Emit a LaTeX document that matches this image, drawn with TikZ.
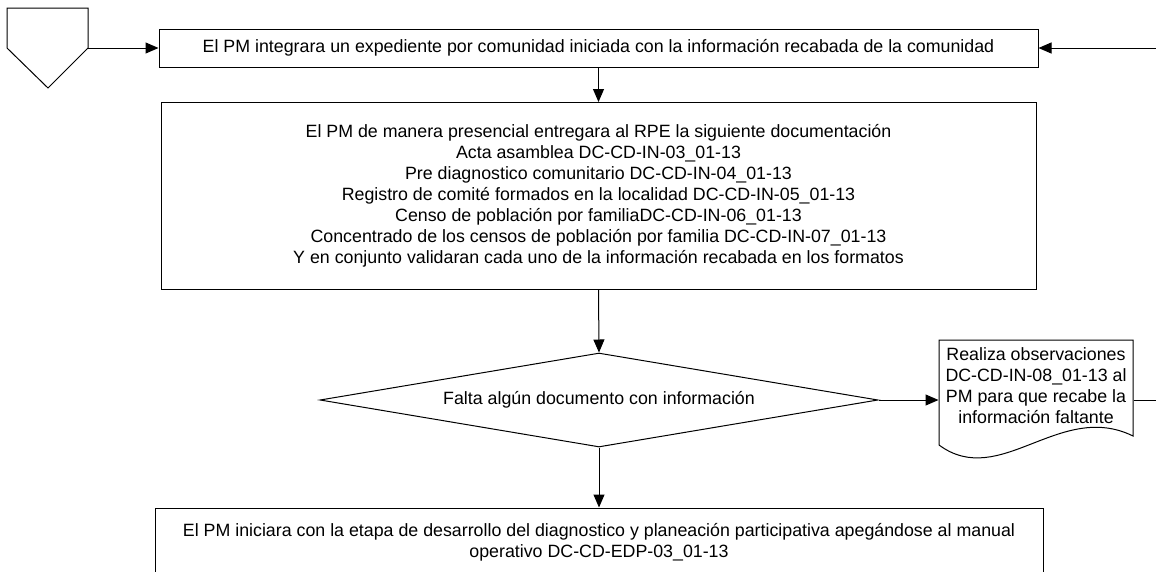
\documentclass[tikz,border=0pt]{standalone}
\usepackage{fontspec}
\setmainfont{Liberation Sans}
\usetikzlibrary{arrows.meta,shapes.geometric}
\begin{document}
\begin{tikzpicture}[x=1pt,y=-1pt,line width=1pt,
    every node/.style={font=\fontsize{17.8}{21}\selectfont,align=center,inner sep=0pt},
    box/.style={rectangle,draw},
    arr/.style={-{Triangle[length=13pt,width=11pt]}}]
  \useasboundingbox (0,0) rectangle (1156,571);

  % off-page connector
  \draw (7,8) -- (88,8) -- (88,48) -- (48,88) -- (7,48) -- cycle;
  \coordinate (pg) at (88,48);
  \coordinate (inR) at (1156,48);
  \coordinate (outR) at (1156,400);

  \path (598.5,48) node[box,minimum width=879pt,minimum height=38pt] (A)
    {El PM integrara un expediente por comunidad iniciada con la información recabada de la comunidad};
  \path (598.5,196) node[box,minimum width=875pt,minimum height=187pt] (B)
    {El PM de manera presencial entregara al RPE la siguiente documentación\\
     Acta asamblea DC-CD-IN-03\_01-13\\
     Pre diagnostico comunitario DC-CD-IN-04\_01-13\\
     Registro de comité formados en la localidad DC-CD-IN-05\_01-13\\
     Censo de población por familiaDC-CD-IN-06\_01-13\\
     Concentrado de los censos de población por familia DC-CD-IN-07\_01-13\\
     Y en conjunto validaran cada uno de la información recabada en los formatos};
  \path (599,400) node[diamond,draw,aspect=6,minimum width=558pt,minimum height=94pt] (C)
    {Falta algún documento con información};
  \path (1036,386) node[minimum width=194pt,minimum height=96pt] (D)
    {Realiza observaciones\\ DC-CD-IN-08\_01-13 al\\ PM para que recabe la\\ información faltante};
  \draw (939,340) -- (1133,340) -- (1133,436)
    .. controls (1060,400) and (1000,490) .. (939,445) -- cycle;
  \path (599,542) node[box,minimum width=888pt,minimum height=68pt] (E)
    {El PM iniciara con la etapa de desarrollo del diagnostico y planeación participativa apegándose al manual\\
     operativo DC-CD-EDP-03\_01-13};

  \draw[arr] (pg) -- (A.west);
  \draw[arr] (inR) -- (A.east);
  \draw[arr] (A.south) -- (B.north);
  \draw[arr] (B.south) -- (C.north);
  \draw[arr] (C.east) -- (C.east -| D.west);
  \draw (C.east -| D.east) -- (outR);
  \draw[arr] (C.south) -- (E.north);
\end{tikzpicture}
\end{document}
